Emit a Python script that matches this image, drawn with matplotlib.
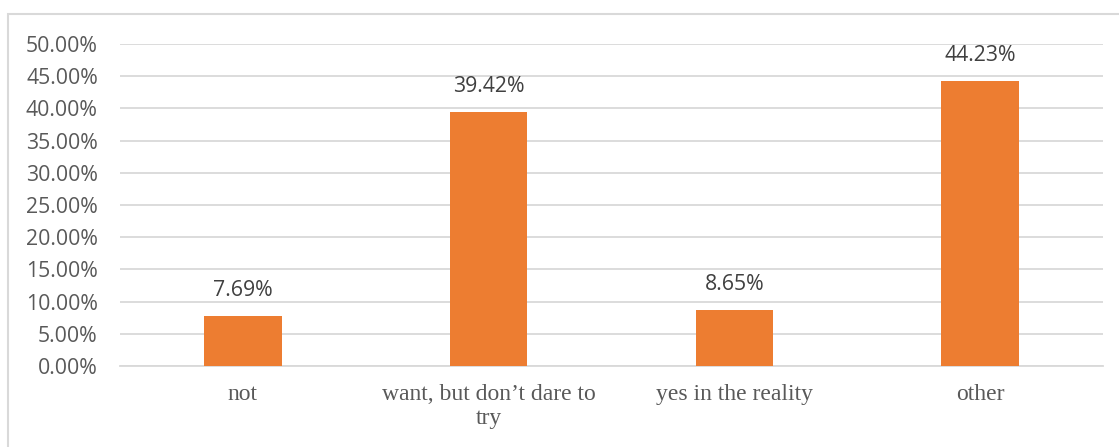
import matplotlib
matplotlib.use("Agg")
import matplotlib.pyplot as plt
from matplotlib.patches import Rectangle
from matplotlib.ticker import FuncFormatter

# survey answers and their share
categories = ['not', 'want, but don\u2019t dare to\ntry', 'yes in the reality', 'other']
shares = [7.69, 39.42, 8.65, 44.23]
yticks = [0, 5, 10, 15, 20, 25, 30, 35, 40, 45, 50]

W, H = 1119, 447
fig = plt.figure(figsize=(W / 100, H / 100), dpi=100)

# light frame round the chart (runs off the right and bottom edge)
fig.patches.append(Rectangle((8 / W, -0.1), 1.2, (H - 14) / H + 0.1, transform=fig.transFigure,
                             fill=False, edgecolor='#D9D9D9', linewidth=1.5, zorder=0))

ax = fig.add_axes([120 / W, (H - 366) / H, (1103 - 120) / W, (366 - 44) / H])

x = range(len(categories))
ax.bar(x, shares, width=0.315, color='#ED7D31', zorder=3)

for i, v in enumerate(shares):
    ax.annotate(f"{v:.2f}%", (i, v), xytext=(0, 11), textcoords='offset points',
                ha='center', va='bottom', fontsize=15.3, color='#404040', family='Open Sans')

ax.set_xlim(-0.5, len(categories) - 0.5)
ax.set_ylim(0, 50)
ax.set_yticks(yticks)
ax.yaxis.set_major_formatter(FuncFormatter(lambda v, p: f"{v:.2f}%"))
ax.grid(axis='y', color='#D9D9D9', linewidth=1.3, zorder=0)
ax.set_axisbelow(True)

for s in ['top', 'right', 'left']:
    ax.spines[s].set_visible(False)
ax.spines['bottom'].set_color('#D9D9D9')
ax.spines['bottom'].set_linewidth(1.3)

ax.tick_params(axis='y', length=0, pad=16, labelsize=15.3, labelcolor='#595959')
ax.tick_params(axis='x', length=0, pad=13, labelcolor='#595959')
for lab in ax.get_yticklabels():
    lab.set_family('Open Sans')

ax.set_xticks(list(x))
ax.set_xticklabels(categories, fontsize=17, family='Liberation Serif', linespacing=1.2)

fig.savefig('out.png', dpi=100)
